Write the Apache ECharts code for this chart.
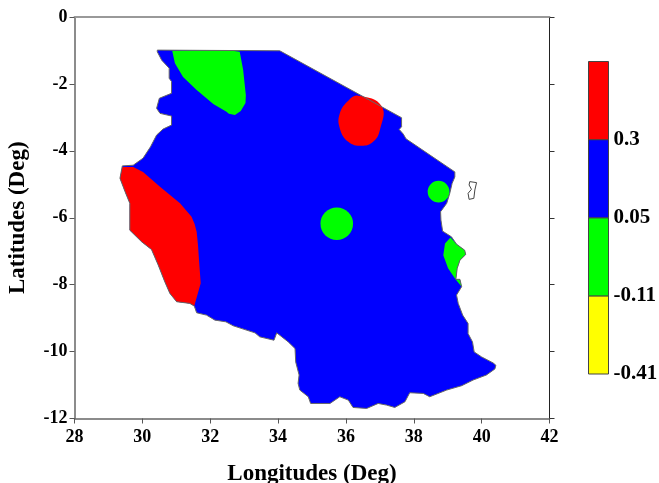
<!DOCTYPE html>
<html><head><meta charset="utf-8">
<style>html,body{margin:0;padding:0;background:#fff}#c{width:659px;height:483px}</style>
<script src="https://cdn.jsdelivr.net/npm/echarts@6/dist/echarts.min.js"></script>
</head><body><div id="c"></div>
<script>
const xTicks = [28, 42];
const yTicks = [-12, 0];
const xName = 'Longitudes (Deg)';
const yName = 'Latitudes (Deg)';
const legendLabels = ['-0.41', '-0.11', '0.05', '0.3', ''];
const legendColors = ['#ffff00', '#00ff00', '#0000ff', '#ff0000'];

const tanzania = [[30.44,-0.99],[34.05,-1.01],[37.64,-3.01],[37.64,-3.28],[37.57,-3.36],[37.69,-3.50],[37.77,-3.64],[39.21,-4.63],[39.21,-4.78],[39.13,-4.97],[39.06,-5.27],[38.97,-5.57],[38.79,-5.82],[38.80,-6.07],[38.85,-6.40],[39.11,-6.57],[39.26,-6.79],[39.50,-6.97],[39.53,-7.10],[39.36,-7.27],[39.28,-7.51],[39.24,-7.84],[39.36,-7.84],[39.41,-8.06],[39.26,-8.31],[39.31,-8.56],[39.44,-8.91],[39.60,-9.16],[39.60,-9.46],[39.73,-9.71],[39.78,-10.01],[40.00,-10.16],[40.34,-10.34],[40.42,-10.41],[40.39,-10.52],[40.14,-10.70],[39.75,-10.85],[39.41,-11.02],[38.97,-11.15],[38.47,-11.35],[38.28,-11.25],[37.88,-11.23],[37.74,-11.50],[37.44,-11.67],[37.20,-11.60],[36.95,-11.55],[36.61,-11.70],[36.21,-11.67],[36.07,-11.45],[35.82,-11.35],[35.53,-11.55],[34.96,-11.55],[34.89,-11.35],[34.64,-11.15],[34.59,-10.95],[34.62,-10.70],[34.52,-10.31],[34.50,-9.91],[34.30,-9.71],[33.96,-9.44],[33.88,-9.66],[33.46,-9.56],[33.32,-9.44],[32.68,-9.23],[32.46,-9.11],[32.14,-9.06],[31.89,-8.91],[31.60,-8.84],[31.53,-8.64],[31.40,-8.56],[31.01,-8.51],[30.81,-8.26],[30.66,-7.91],[30.47,-7.42],[30.27,-6.95],[29.98,-6.72],[29.63,-6.37],[29.63,-5.57],[29.49,-5.22],[29.34,-4.82],[29.41,-4.45],[29.73,-4.43],[30.02,-4.22],[30.24,-3.88],[30.42,-3.53],[30.61,-3.35],[30.86,-3.23],[30.86,-2.96],[30.52,-2.88],[30.42,-2.73],[30.50,-2.43],[30.86,-2.28],[30.86,-1.93],[30.79,-1.83],[30.79,-1.53],[30.57,-1.29],[30.44,-1.04]];
const island = [[39.65,-4.92],[39.85,-4.95],[39.80,-5.17],[39.77,-5.42],[39.63,-5.45],[39.60,-5.27],[39.70,-5.15],[39.63,-5.02]];
const greenNorth = [[30.88,-1.01],[32.48,-0.99],[32.87,-1.04],[32.97,-1.58],[33.05,-2.33],[33.04,-2.57],[32.90,-2.81],[32.73,-2.93],[32.55,-2.89],[32.48,-2.83],[32.09,-2.60],[31.60,-2.18],[31.20,-1.79],[30.96,-1.38]];
const greenEast = [[39.08,-6.59],[39.26,-6.79],[39.50,-6.97],[39.53,-7.10],[39.36,-7.27],[39.28,-7.51],[39.24,-7.84],[39.36,-7.84],[39.41,-8.06],[39.23,-7.84],[39.01,-7.51],[38.87,-7.12],[38.92,-6.77]];
const redNorth = [[36.36,-2.35],[37.05,-2.66],[37.00,-3.38],[36.80,-3.73],[36.46,-3.85],[36.07,-3.73],[35.82,-3.33],[35.82,-2.88],[36.07,-2.50]];
const redWest = [[29.41,-4.48],[29.73,-4.48],[30.02,-4.63],[30.52,-5.07],[31.11,-5.57],[31.28,-5.77],[31.45,-5.97],[31.54,-6.19],[31.60,-6.42],[31.64,-6.82],[31.67,-7.27],[31.72,-7.96],[31.53,-8.64],[31.40,-8.56],[31.01,-8.51],[30.81,-8.26],[30.66,-7.91],[30.47,-7.42],[30.27,-6.95],[29.98,-6.72],[29.63,-6.37],[29.63,-5.57],[29.49,-5.22],[29.34,-4.82]];
const greenSpotLon = [35.73, 38.73];
const greenSpotLat = [-6.18, -5.22];
const greenSpotRadius = [0.48, 0.32];

const serif = 'Liberation Serif';
const tickFont = {fontFamily: serif, fontWeight: 'bold', fontSize: 18, color: '#000'};
const nameFont = {fontFamily: serif, fontWeight: 'bold', fontSize: 23, color: '#000'};

function poly(pts, fill, stroke, smooth, z) {
  return {
    type: 'custom', xAxisIndex: 0, yAxisIndex: 0, clip: false, silent: true, z: z,
    data: [0],
    renderItem: function (p, api) {
      return {
        type: 'polygon',
        shape: {points: pts.map(q => api.coord(q)), smooth: smooth || 0},
        style: {fill: fill, stroke: stroke, lineWidth: stroke ? 1 : 0}
      };
    }
  };
}

const chart = echarts.init(document.getElementById('c'), null, {renderer: 'canvas'});
chart.setOption({
  animation: false,
  backgroundColor: '#fff',
  grid: [
    {left: 74.5, top: 17, width: 475, height: 401.5, containLabel: false, outerBoundsMode: 'none'},
    {left: 588.5, top: 61.5, width: 20, height: 312.5, containLabel: false, outerBoundsMode: 'none'}
  ],
  xAxis: [
    {type: 'value', gridIndex: 0, min: xTicks[0], max: xTicks[1], interval: 2, position: 'bottom',
      name: xName, nameLocation: 'middle', nameGap: 44, nameTextStyle: Object.assign({}, nameFont, {letterSpacing: 0.4}),
      axisLine: {onZero: false, lineStyle: {color: '#666', width: 1.5}},
      axisTick: {length: 5, lineStyle: {color: '#555', width: 1}},
      axisLabel: Object.assign({margin: 10}, tickFont), splitLine: {show: false}},
    {type: 'value', gridIndex: 0, min: xTicks[0], max: xTicks[1], interval: 2, position: 'top',
      axisLine: {onZero: false, lineStyle: {color: '#999', width: 2}},
      axisTick: {show: false}, axisLabel: {show: false}, splitLine: {show: false}},
    {type: 'value', gridIndex: 1, min: 0, max: 1, show: false}
  ],
  yAxis: [
    {type: 'value', gridIndex: 0, min: yTicks[0], max: yTicks[1], interval: 2, position: 'left',
      name: yName, nameLocation: 'middle', nameGap: 45, nameTextStyle: nameFont,
      axisLine: {onZero: false, lineStyle: {color: '#666', width: 1.5}},
      axisTick: {length: 5, lineStyle: {color: '#555', width: 1}},
      axisLabel: Object.assign({margin: 7}, tickFont), splitLine: {show: false}},
    {type: 'value', gridIndex: 0, min: yTicks[0], max: yTicks[1], interval: 2, position: 'right',
      axisLine: {onZero: false, lineStyle: {color: '#222', width: 1}},
      axisTick: {length: 5, lineStyle: {color: '#333', width: 1}},
      axisLabel: {show: false}, splitLine: {show: false}},
    {type: 'category', gridIndex: 1, position: 'right', boundaryGap: false, data: legendLabels,
      axisLine: {show: false}, axisTick: {show: false}, splitLine: {show: false},
      axisLabel: {interval: 0, margin: 5, padding: [7, 0, 0, 0], fontFamily: serif, fontWeight: 'bold', fontSize: 21, color: '#000'}}
  ],
  series: [
    poly(tanzania, '#0000ff', null, 0, 1),
    poly(greenNorth, '#00ff00', null, 0, 2),
    poly(greenEast, '#00ff00', null, 0, 2),
    poly(redNorth, '#ff0000', null, 0.45, 2),
    poly(redWest, '#ff0000', null, 0, 2),
    {
      type: 'custom', xAxisIndex: 0, yAxisIndex: 0, clip: false, silent: true, z: 3,
      data: greenSpotLon.map((v, i) => [v, greenSpotLat[i], greenSpotRadius[i]]),
      encode: {x: 0, y: 1},
      renderItem: function (p, api) {
        const c = api.coord([api.value(0), api.value(1)]);
        const r = api.size([api.value(2), api.value(2)]);
        return {type: 'circle', shape: {cx: c[0], cy: c[1], r: r[0]}, style: {fill: '#00ff00'}};
      }
    },
    poly(tanzania, 'none', '#666', 0, 4),
    poly(island, '#fff', '#444', 0, 4),
    {
      type: 'custom', xAxisIndex: 2, yAxisIndex: 2, clip: false, silent: true, z: 5,
      data: legendColors.map((c, i) => [i]),
      encode: {y: 0},
      renderItem: function (p, api) {
        const i = p.dataIndex;
        const a = api.coord([0, i]);
        const b = api.coord([1, i + 1]);
        return {type: 'rect', shape: {x: a[0], y: b[1], width: b[0] - a[0], height: a[1] - b[1]},
          style: {fill: legendColors[i], stroke: '#444', lineWidth: 1}};
      }
    }
  ]
});
</script></body></html>
